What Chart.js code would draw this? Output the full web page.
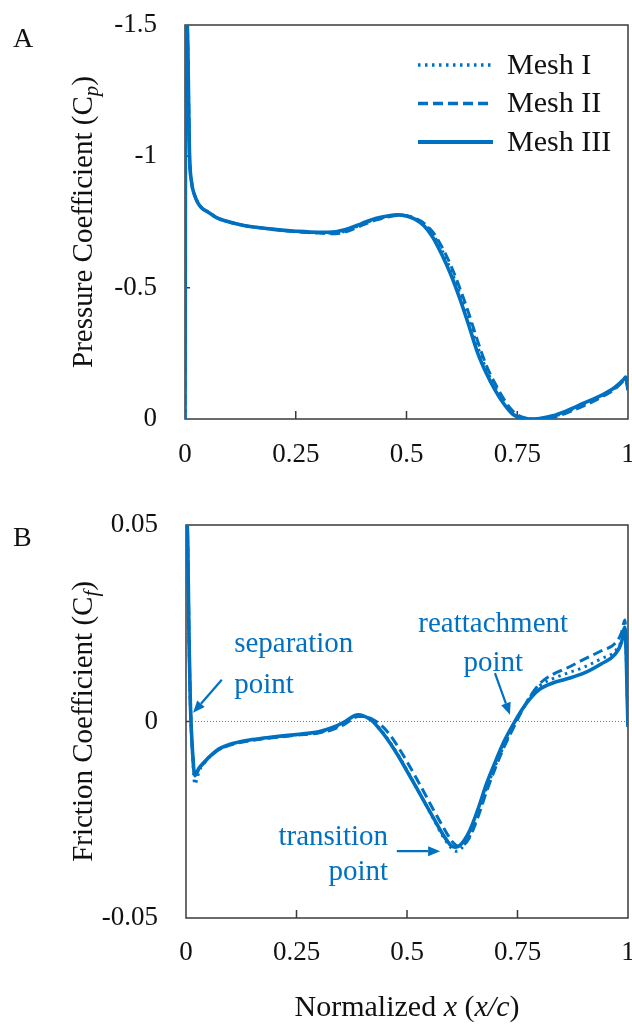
<!DOCTYPE html>
<html>
<head>
<meta charset="utf-8">
<script src="https://cdn.jsdelivr.net/npm/chart.js@4.4.1/dist/chart.umd.min.js"></script>
<style>
  body { margin: 0; background: #fff; }
  #wrap { position: relative; width: 632px; height: 1024px; }
  #cpChart { position: absolute; left: 0; top: 0; }
  #cfChart { position: absolute; left: 0; top: 480px; }
</style>
</head>
<body>
<div id="wrap">
  <canvas id="cpChart" width="632" height="480"></canvas>
  <canvas id="cfChart" width="632" height="544"></canvas>
</div>
<script>
// ---- data ----
const meshLabels = ['Mesh I', 'Mesh II', 'Mesh III'];
const xTickValues = [0, 0.25, 0.5, 0.75, 1];
const cpTickValues = [-1.5, -1, -0.5, 0];
const cfTickValues = [-0.05, 0, 0.05];

// panel A : pressure coefficient
const cpX = [0, 0.002, 0.006, 0.01, 0.015, 0.02, 0.03, 0.04, 0.05, 0.07, 0.1, 0.13, 0.16, 0.2, 0.25,
  0.3, 0.34, 0.37, 0.4, 0.43, 0.46, 0.48, 0.5, 0.52, 0.54, 0.56, 0.58, 0.6, 0.62, 0.64, 0.66,
  0.68, 0.7, 0.72, 0.74, 0.76, 0.78, 0.8, 0.83, 0.86, 0.9, 0.94, 0.97, 0.99, 0.995, 1];
const cpMesh1 = [0, -1.6, -1.45, -1.02, -0.9, -0.86, -0.82, -0.8, -0.79, -0.768, -0.75, -0.738, -0.73, -0.722, -0.714,
  -0.709, -0.708, -0.72, -0.742, -0.76, -0.772, -0.776, -0.773, -0.762, -0.742, -0.702, -0.643, -0.568, -0.48, -0.383, -0.278,
  -0.19, -0.122, -0.066, -0.024, -0.005, -0.001, -0.001, -0.009, -0.026, -0.055, -0.087, -0.117, -0.148, -0.158, -0.11];
const cpMesh2 = [0, -1.6, -1.45, -1.02, -0.9, -0.86, -0.82, -0.8, -0.79, -0.768, -0.75, -0.738, -0.73, -0.722, -0.713,
  -0.708, -0.705, -0.716, -0.738, -0.757, -0.77, -0.775, -0.774, -0.764, -0.745, -0.71, -0.655, -0.585, -0.5, -0.405, -0.3,
  -0.205, -0.135, -0.075, -0.03, -0.008, -0.001, 0, -0.006, -0.022, -0.05, -0.083, -0.114, -0.146, -0.157, -0.11];
const cpMesh3 = [0, -1.6, -1.45, -1.02, -0.9, -0.86, -0.82, -0.8, -0.79, -0.768, -0.75, -0.738, -0.73, -0.722, -0.715,
  -0.711, -0.713, -0.725, -0.745, -0.763, -0.774, -0.777, -0.773, -0.76, -0.735, -0.69, -0.625, -0.55, -0.46, -0.36, -0.255,
  -0.175, -0.11, -0.057, -0.018, -0.003, 0, -0.002, -0.012, -0.03, -0.06, -0.09, -0.12, -0.15, -0.16, -0.11];

// panel B : friction coefficient
const cfX = [0, 0.004, 0.007, 0.01, 0.015, 0.02, 0.025, 0.03, 0.04, 0.05, 0.07, 0.1, 0.15, 0.2, 0.25,
  0.3, 0.33, 0.36, 0.38, 0.39, 0.4, 0.42, 0.44, 0.46, 0.48, 0.5, 0.52, 0.54, 0.56, 0.58, 0.6, 0.61, 0.62,
  0.64, 0.66, 0.68, 0.7, 0.72, 0.74, 0.76, 0.78, 0.8, 0.83, 0.86, 0.9, 0.94, 0.97, 0.985, 0.993, 1];
const cfMesh1 = [0.06, 0.045, 0.02, 0.004, -0.009, -0.016, -0.0145, -0.0125, -0.0108, -0.0095, -0.0075, -0.0059, -0.0047, -0.004, -0.0034,
  -0.0028, -0.0019, -0.0003, 0.0012, 0.0015, 0.0014, 0.0004, -0.002, -0.005, -0.0085, -0.0124, -0.0165, -0.0206, -0.0248, -0.029, -0.0322, -0.033, -0.0326,
  -0.0296, -0.0238, -0.017, -0.0112, -0.006, -0.0015, 0.0028, 0.0065, 0.0091, 0.0109, 0.0122, 0.0138, 0.016, 0.0178, 0.0205, 0.0238, -0.001];
const cfMesh2 = [0.06, 0.045, 0.02, 0.004, -0.008, -0.0135, -0.013, -0.012, -0.0106, -0.0094, -0.0075, -0.006, -0.0048, -0.0041, -0.0035,
  -0.0029, -0.0021, -0.0006, 0.0009, 0.0013, 0.0013, 0.0007, -0.0008, -0.0032, -0.0065, -0.0102, -0.0142, -0.0183, -0.0225, -0.0265, -0.0302, -0.0314, -0.0318,
  -0.0298, -0.0245, -0.0178, -0.0118, -0.0064, -0.0018, 0.0027, 0.0066, 0.0096, 0.012, 0.0135, 0.0158, 0.018, 0.0198, 0.0225, 0.0258, -0.001];
const cfMesh3 = [0.06, 0.045, 0.02, 0.004, -0.008, -0.0138, -0.0128, -0.0118, -0.0105, -0.0093, -0.0073, -0.0058, -0.0046, -0.0039, -0.0033,
  -0.0026, -0.0016, 0, 0.0014, 0.0017, 0.0015, 0.0003, -0.0022, -0.0052, -0.0087, -0.0126, -0.0166, -0.0206, -0.0246, -0.0285, -0.0316, -0.032, -0.0315,
  -0.0282, -0.0225, -0.0158, -0.0102, -0.005, -0.0008, 0.003, 0.006, 0.0082, 0.0098, 0.0108, 0.0123, 0.0147, 0.017, 0.02, 0.024, -0.0014];

// annotations of panel B (text lines, anchor in data units, arrow in data units)
const cfNotes = [
  { lines: ['separation', 'point'], x: 0.109, y: [0.0195, 0.0093], align: 'left', arrow: [0.081, 0.0106, 0.016, 0.0022] },
  { lines: ['reattachment', 'point'], x: 0.695, y: [0.0246, 0.0149], align: 'center', arrow: [0.699, 0.0123, 0.733, 0.0017] },
  { lines: ['transition', 'point'], x: 0.457, y: [-0.0294, -0.0385], align: 'right', arrow: [0.477, -0.033, 0.575, -0.033] }
];

// ---- styles ----
const SERIF = '"Liberation Serif", "Times New Roman", serif';
const BLUE = '#0070C0';
const INK = '#111';
const FRAME = '#3a3a3a';

function series(xs, ys) {
  return xs.map((x, i) => ({ x: x, y: ys[i] }));
}

function datasets(xs, m1, m2, m3) {
  return [
    { label: meshLabels[0], data: series(xs, m1), borderColor: BLUE, borderWidth: 3, borderDash: [2.5, 4.5] },
    { label: meshLabels[1], data: series(xs, m2), borderColor: BLUE, borderWidth: 3, borderDash: [10, 5] },
    { label: meshLabels[2], data: series(xs, m3), borderColor: BLUE, borderWidth: 3.6, borderDash: [] }
  ].map(d => Object.assign(d, { pointRadius: 0, fill: false, cubicInterpolationMode: 'monotone' }));
}

// draw a run of text pieces (italic / subscript) centred on x,y
function drawRuns(ctx, runs, x, y, size) {
  const fontOf = r => (r.i ? 'italic ' : '') + Math.round(r.sub ? size * 0.72 : size) + 'px ' + SERIF;
  let total = 0;
  runs.forEach(r => { ctx.font = fontOf(r); total += ctx.measureText(r.t).width; });
  let cx = x - total / 2;
  ctx.textAlign = 'left';
  ctx.textBaseline = 'middle';
  runs.forEach(r => {
    ctx.font = fontOf(r);
    ctx.fillText(r.t, cx, y + (r.sub ? size * 0.28 : 0));
    cx += ctx.measureText(r.t).width;
  });
}

function arrow(ctx, x1, y1, x2, y2) {
  const a = Math.atan2(y2 - y1, x2 - x1), L = 12, W = 5;
  const bx = x2 - L * Math.cos(a), by = y2 - L * Math.sin(a);
  ctx.strokeStyle = BLUE;
  ctx.fillStyle = BLUE;
  ctx.lineWidth = 2.2;
  ctx.setLineDash([]);
  ctx.beginPath();
  ctx.moveTo(x1, y1);
  ctx.lineTo(bx, by);
  ctx.stroke();
  ctx.beginPath();
  ctx.moveTo(x2, y2);
  ctx.lineTo(bx + W * Math.sin(a), by - W * Math.cos(a));
  ctx.lineTo(bx - W * Math.sin(a), by + W * Math.cos(a));
  ctx.closePath();
  ctx.fill();
}

// frame, inward tick marks, zero line
const framePlugin = {
  id: 'frame',
  beforeDatasetsDraw(chart, args, opts) {
    const ctx = chart.ctx, a = chart.chartArea;
    const xs = chart.scales.x, ys = chart.scales.y;
    ctx.save();
    if (opts.zeroLine) {
      const y0 = ys.getPixelForValue(0);
      ctx.strokeStyle = '#777';
      ctx.lineWidth = 1;
      ctx.setLineDash([1, 2]);
      ctx.beginPath();
      ctx.moveTo(a.left, y0);
      ctx.lineTo(a.right, y0);
      ctx.stroke();
      ctx.setLineDash([]);
    }
    ctx.strokeStyle = FRAME;
    ctx.lineWidth = 1.5;
    ctx.strokeRect(a.left, a.top, a.right - a.left, a.bottom - a.top);
    ctx.beginPath();
    xs.ticks.forEach(t => {
      if (t.value <= xs.min || t.value >= xs.max) return;
      const px = xs.getPixelForValue(t.value);
      ctx.moveTo(px, a.bottom);
      ctx.lineTo(px, a.bottom - 8);
    });
    ys.ticks.forEach(t => {
      if (t.value <= ys.min || t.value >= ys.max) return;
      const py = ys.getPixelForValue(t.value);
      ctx.moveTo(a.left, py);
      ctx.lineTo(a.left + 5, py);
    });
    ctx.stroke();
    ctx.restore();
  },
  afterDraw(chart, args, opts) {
    const ctx = chart.ctx, a = chart.chartArea;
    ctx.save();
    ctx.fillStyle = INK;
    // panel letter
    ctx.font = '28px ' + SERIF;
    ctx.textAlign = 'left';
    ctx.textBaseline = 'middle';
    ctx.fillText(opts.panel, 13, a.top + opts.panelDy);
    // y title, rotated
    ctx.save();
    ctx.translate(opts.yTitleX, (a.top + a.bottom) / 2);
    ctx.rotate(-Math.PI / 2);
    drawRuns(ctx, opts.yTitle, 0, 0, 29);
    ctx.restore();
    // x title
    if (opts.xTitle) drawRuns(ctx, opts.xTitle, (a.left + a.right) / 2, a.bottom + opts.xTitleDy, 30);
    // legend
    if (opts.legend) {
      chart.data.datasets.forEach((d, i) => {
        const ly = a.top + 40 + i * 38.5;
        ctx.strokeStyle = d.borderColor;
        ctx.lineWidth = d.borderWidth + 0.4;
        ctx.setLineDash(d.borderDash);
        ctx.beginPath();
        ctx.moveTo(a.right - 210, ly);
        ctx.lineTo(a.right - 135, ly);
        ctx.stroke();
        ctx.setLineDash([]);
        ctx.font = '30px ' + SERIF;
        ctx.fillStyle = INK;
        ctx.textAlign = 'left';
        ctx.textBaseline = 'middle';
        ctx.fillText(d.label, a.right - 121, ly + 1);
      });
    }
    // annotations
    if (opts.notes) {
      const xs = chart.scales.x, ys = chart.scales.y;
      opts.notes.forEach(n => {
        ctx.font = '29px ' + SERIF;
        ctx.fillStyle = BLUE;
        ctx.textAlign = n.align;
        ctx.textBaseline = 'middle';
        n.lines.forEach((s, k) => ctx.fillText(s, xs.getPixelForValue(n.x), ys.getPixelForValue(n.y[k])));
        arrow(ctx, xs.getPixelForValue(n.arrow[0]), ys.getPixelForValue(n.arrow[1]),
          xs.getPixelForValue(n.arrow[2]), ys.getPixelForValue(n.arrow[3]));
      });
    }
    ctx.restore();
  }
};

function fixedTicks(values) {
  return scale => { scale.ticks = values.map(v => ({ value: v })); };
}

const plainNumber = v => String(v);

// fixed axis size, and no extra room kept for overhanging end labels
function fitTo(prop, size) {
  return s => {
    s[prop] = size;
    s.paddingLeft = 0; s.paddingRight = 0; s.paddingTop = 0; s.paddingBottom = 0;
  };
}

function axisX(height, pad) {
  return {
    type: 'linear', min: 0, max: 1,
    afterBuildTicks: fixedTicks(xTickValues),
    afterFit: fitTo('height', height),
    grid: { display: false, drawTicks: false },
    border: { display: false },
    ticks: { color: INK, padding: pad, maxRotation: 0, autoSkip: false, callback: plainNumber, font: { family: SERIF, size: 27 } }
  };
}

function axisY(min, max, values, width, reverse) {
  return {
    type: 'linear', min: min, max: max, reverse: reverse,
    afterBuildTicks: fixedTicks(values),
    afterFit: fitTo('width', width),
    grid: { display: false, drawTicks: false },
    border: { display: false },
    ticks: { color: INK, padding: 28, autoSkip: false, callback: plainNumber, font: { family: SERIF, size: 27 } }
  };
}

const common = {
  responsive: false,
  animation: false,
  devicePixelRatio: 1
};

new Chart(document.getElementById('cpChart'), {
  type: 'line',
  data: { datasets: datasets(cpX, cpMesh1, cpMesh2, cpMesh3) },
  options: Object.assign({}, common, {
    layout: { autoPadding: false, padding: { top: 25, right: 4, left: 0, bottom: 0 } },
    scales: { x: axisX(61, 20), y: axisY(-1.5, 0, cpTickValues, 185, true) },
    plugins: {
      legend: { display: false },
      tooltip: { enabled: false },
      frame: {
        panel: 'A', panelDy: 15, yTitleX: 84, legend: true,
        yTitle: [{ t: 'Pressure Coefficient (C' }, { t: 'p', i: true, sub: true }, { t: ')' }]
      }
    }
  }),
  plugins: [framePlugin]
});

new Chart(document.getElementById('cfChart'), {
  type: 'line',
  data: { datasets: datasets(cfX, cfMesh1, cfMesh2, cfMesh3) },
  options: Object.assign({}, common, {
    layout: { autoPadding: false, padding: { top: 45, right: 4, left: 0, bottom: 0 } },
    scales: { x: axisX(106, 19), y: axisY(-0.05, 0.05, cfTickValues, 186, false) },
    plugins: {
      legend: { display: false },
      tooltip: { enabled: false },
      frame: {
        panel: 'B', panelDy: 14, yTitleX: 84, zeroLine: true, notes: cfNotes, xTitleDy: 90,
        yTitle: [{ t: 'Friction Coefficient (C' }, { t: 'f', i: true, sub: true }, { t: ')' }],
        xTitle: [{ t: 'Normalized ' }, { t: 'x', i: true }, { t: ' (' }, { t: 'x/c', i: true }, { t: ')' }]
      }
    }
  }),
  plugins: [framePlugin]
});
</script>
</body>
</html>
